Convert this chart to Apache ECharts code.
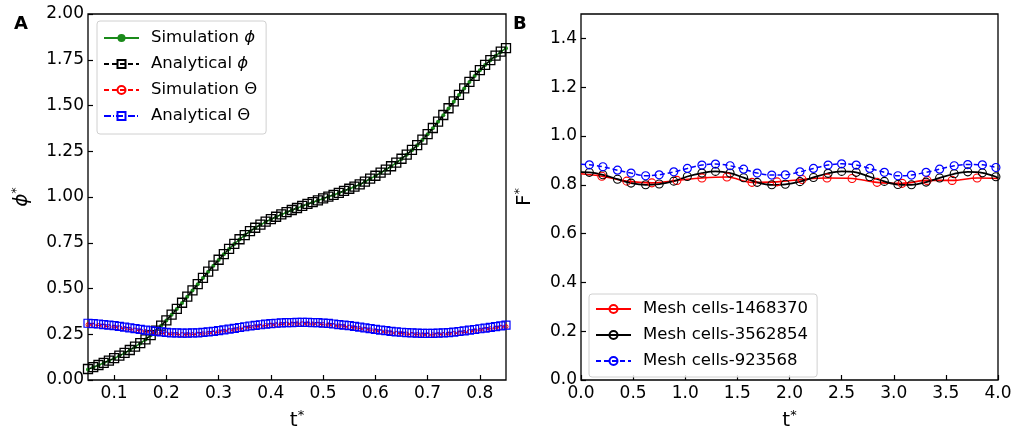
<!DOCTYPE html>
<html><head><meta charset="utf-8">
<script src="https://cdn.jsdelivr.net/npm/echarts@6/dist/echarts.min.js"></script>
<style>html,body{margin:0;padding:0;background:#fff}#c{width:1016px;height:436px}</style>
</head><body><div id="c"></div><script>
// ---------- Panel A data ----------
const tA = [0.05,0.06,0.07,0.08,0.09,0.10,0.11,0.12,0.13,0.14,0.15,0.16,0.17,0.18,0.19,0.20,0.21,0.22,0.23,0.24,0.25,0.26,0.27,0.28,0.29,0.30,0.31,0.32,0.33,0.34,0.35,0.36,0.37,0.38,0.39,0.40,0.41,0.42,0.43,0.44,0.45,0.46,0.47,0.48,0.49,0.50,0.51,0.52,0.53,0.54,0.55,0.56,0.57,0.58,0.59,0.60,0.61,0.62,0.63,0.64,0.65,0.66,0.67,0.68,0.69,0.70,0.71,0.72,0.73,0.74,0.75,0.76,0.77,0.78,0.79,0.80,0.81,0.82,0.83,0.84,0.85];
const phiSim = [0.058,0.069,0.081,0.093,0.105,0.118,0.132,0.147,0.163,0.181,0.200,0.221,0.244,0.269,0.296,0.325,0.356,0.388,0.421,0.455,0.489,0.523,0.557,0.591,0.624,0.656,0.687,0.716,0.743,0.768,0.791,0.812,0.831,0.848,0.864,0.878,0.891,0.904,0.916,0.928,0.939,0.950,0.961,0.971,0.981,0.991,1.001,1.011,1.022,1.033,1.044,1.056,1.068,1.083,1.099,1.115,1.132,1.149,1.167,1.187,1.208,1.231,1.256,1.283,1.312,1.343,1.376,1.411,1.447,1.484,1.521,1.557,1.593,1.628,1.661,1.692,1.721,1.747,1.771,1.793,1.813];
const phiAna = [0.060,0.070,0.082,0.094,0.106,0.119,0.133,0.148,0.164,0.182,0.201,0.222,0.245,0.270,0.297,0.326,0.357,0.389,0.422,0.456,0.490,0.524,0.558,0.592,0.625,0.657,0.688,0.717,0.744,0.769,0.792,0.813,0.832,0.849,0.865,0.879,0.892,0.905,0.917,0.929,0.940,0.951,0.962,0.972,0.982,0.992,1.002,1.012,1.023,1.034,1.045,1.057,1.069,1.084,1.100,1.116,1.133,1.150,1.168,1.188,1.209,1.232,1.257,1.284,1.313,1.344,1.377,1.412,1.448,1.485,1.522,1.558,1.594,1.629,1.662,1.693,1.722,1.748,1.772,1.794,1.814];
const thetaSim = [0.302,0.300,0.298,0.295,0.292,0.289,0.285,0.281,0.277,0.273,0.269,0.265,0.261,0.258,0.255,0.252,0.250,0.249,0.248,0.248,0.249,0.250,0.252,0.255,0.258,0.262,0.266,0.270,0.274,0.279,0.283,0.287,0.291,0.294,0.297,0.300,0.302,0.304,0.305,0.306,0.307,0.307,0.307,0.306,0.305,0.303,0.301,0.298,0.295,0.292,0.289,0.285,0.281,0.277,0.273,0.269,0.265,0.262,0.258,0.255,0.253,0.251,0.249,0.248,0.247,0.247,0.247,0.248,0.249,0.251,0.254,0.257,0.260,0.264,0.268,0.272,0.276,0.280,0.284,0.288,0.292];
const thetaAna = [0.310,0.308,0.306,0.303,0.300,0.297,0.293,0.289,0.285,0.281,0.277,0.273,0.269,0.266,0.263,0.260,0.258,0.257,0.256,0.256,0.257,0.258,0.260,0.263,0.266,0.270,0.274,0.278,0.282,0.287,0.291,0.295,0.299,0.302,0.305,0.308,0.310,0.312,0.313,0.314,0.315,0.315,0.315,0.314,0.313,0.311,0.309,0.306,0.303,0.300,0.297,0.293,0.289,0.285,0.281,0.277,0.273,0.270,0.266,0.263,0.261,0.259,0.257,0.256,0.255,0.255,0.255,0.256,0.257,0.259,0.262,0.265,0.268,0.272,0.276,0.280,0.284,0.288,0.292,0.296,0.300];
const xTicksA = [0.1,0.2,0.3,0.4,0.5,0.6,0.7,0.8];
const yTicksA = [0,0.25,0.5,0.75,1.0,1.25,1.5,1.75,2.0];

// ---------- Panel B data ----------
const tMesh = [0.00,0.08,0.21,0.35,0.48,0.62,0.75,0.89,1.02,1.16,1.29,1.43,1.56,1.69,1.83,1.96,2.10,2.23,2.37,2.50,2.64,2.77,2.91,3.04,3.17,3.31,3.44,3.58,3.71,3.85,3.98,4.00];
const mesh3562854 = [0.852,0.851,0.841,0.823,0.807,0.800,0.803,0.815,0.834,0.848,0.855,0.848,0.829,0.810,0.800,0.802,0.813,0.830,0.847,0.855,0.851,0.833,0.814,0.801,0.800,0.811,0.828,0.845,0.853,0.849,0.833,0.826];
const mesh923568 = [0.884,0.882,0.874,0.860,0.848,0.837,0.841,0.853,0.867,0.881,0.885,0.878,0.864,0.848,0.840,0.841,0.853,0.867,0.881,0.886,0.881,0.867,0.851,0.837,0.840,0.851,0.864,0.878,0.883,0.882,0.871,0.866];
const tRed = [0.00,0.20,0.44,0.68,0.92,1.16,1.40,1.64,1.88,2.12,2.36,2.60,2.84,3.08,3.32,3.56,3.80,4.00];
const mesh1468370 = [0.845,0.835,0.815,0.808,0.818,0.828,0.832,0.810,0.812,0.822,0.828,0.826,0.810,0.806,0.818,0.818,0.828,0.826];
const xTicksB = [0,0.5,1.0,1.5,2.0,2.5,3.0,3.5,4.0];
const yTicksB = [0,0.2,0.4,0.6,0.8,1.0,1.2,1.4];

const FONT = 'DejaVu Sans';
const pairs = (xs, ys) => xs.map((x, i) => [x, ys[i]]);
const endsHidden = (xs, ys) => xs.map((x, i) => (i === 0 || i === xs.length - 1) ? {value: [x, ys[i]], symbol: 'none'} : [x, ys[i]]);

const chart = echarts.init(document.getElementById('c'), null, {renderer: 'canvas'});

function xAxisCfg(gi, min, max, ticks, digits) {
  return {
    type: 'value', gridIndex: gi, min: min, max: max,
    axisLine: {show: false},
    axisTick: {show: true, inside: true, length: 5, customValues: ticks, lineStyle: {color: '#000', width: 1.2}},
    axisLabel: {customValues: ticks, formatter: v => v.toFixed(digits), color: '#000', fontSize: 17, fontFamily: FONT, margin: 5},
    splitLine: {show: false},
    name: '{m|t}{s|*}', nameLocation: 'middle', nameGap: 29,
    nameTextStyle: {rich: {m: {fontSize: 20, fontFamily: FONT, color: '#000', lineHeight: 24}, s: {fontSize: 13, fontFamily: FONT, color: '#000', verticalAlign: 'top', lineHeight: 24}}}
  };
}
function yAxisCfg(gi, min, max, ticks, digits, nameRich, gap) {
  return {
    type: 'value', gridIndex: gi, min: min, max: max,
    axisLine: {show: false},
    axisTick: {show: true, inside: true, length: 5, customValues: ticks, lineStyle: {color: '#000', width: 1.2}},
    axisLabel: {customValues: ticks, formatter: v => v.toFixed(digits), color: '#000', fontSize: 17, fontFamily: FONT, margin: 4},
    splitLine: {show: false},
    name: nameRich, nameLocation: 'middle', nameGap: gap,
    nameTextStyle: {rich: {
      m: {fontSize: 20, fontFamily: FONT, color: '#000', lineHeight: 24},
      i: {fontSize: 20, fontFamily: FONT, fontStyle: 'italic', color: '#000', lineHeight: 24},
      s: {fontSize: 13, fontFamily: FONT, color: '#000', verticalAlign: 'top', lineHeight: 24}}}
  };
}

const legendText = {fontSize: 16.5, fontFamily: FONT, color: '#000', lineHeight: 20, padding: [0, 0, 0, 7],
  rich: {i: {fontSize: 16.5, fontFamily: FONT, fontStyle: 'italic', color: '#000', lineHeight: 20}}};

const option = {
  backgroundColor: '#fff',
  animation: false,
  title: [
    {text: 'A', left: 9, top: 10, textStyle: {fontSize: 18, fontWeight: 'bold', fontFamily: FONT, color: '#000'}},
    {text: 'B', left: 508, top: 10, textStyle: {fontSize: 18, fontWeight: 'bold', fontFamily: FONT, color: '#000'}}
  ],
  grid: [
    {left: 88, top: 14, width: 418, height: 368, show: true, borderColor: '#000', borderWidth: 1.3, backgroundColor: 'transparent'},
    {left: 581, top: 14, width: 417, height: 368, show: true, borderColor: '#000', borderWidth: 1.3, backgroundColor: 'transparent'}
  ],
  xAxis: [xAxisCfg(0, 0.05, 0.85, xTicksA, 1), xAxisCfg(1, 0, 4, xTicksB, 1)],
  yAxis: [
    yAxisCfg(0, 0, 2, yTicksA, 2, '{i|ϕ}{s|*}', 54),
    yAxisCfg(1, 0, 1.5, yTicksB, 1, '{m|F}{s|*}', 44)
  ],
  legend: [
    {
      data: ['Simulation ϕ', 'Analytical ϕ', 'Simulation Θ', 'Analytical Θ'],
      orient: 'vertical', left: 97, top: 21, itemWidth: 35, itemHeight: 10, itemGap: 6,
      padding: [7, 9, 8, 6], backgroundColor: 'rgba(255,255,255,0.85)', borderColor: '#d0d0d0', borderWidth: 1, borderRadius: 3,
      textStyle: legendText, formatter: n => n.replace('ϕ', '{i|ϕ}')
    },
    {
      data: ['Mesh cells-1468370', 'Mesh cells-3562854', 'Mesh cells-923568'],
      orient: 'vertical', left: 589, top: 294, itemWidth: 35, itemHeight: 10, itemGap: 6,
      padding: [5, 9, 6, 6], backgroundColor: 'rgba(255,255,255,0.85)', borderColor: '#d0d0d0', borderWidth: 1, borderRadius: 3,
      textStyle: legendText
    }
  ],
  series: [
    {name: 'Simulation ϕ', type: 'line', xAxisIndex: 0, yAxisIndex: 0, data: pairs(tA, phiSim),
      symbol: 'circle', symbolSize: 4, showSymbol: true,
      lineStyle: {color: '#1a8a1a', width: 1.5}, itemStyle: {color: '#1a8a1a'}},
    {name: 'Analytical ϕ', type: 'line', xAxisIndex: 0, yAxisIndex: 0, data: pairs(tA, phiAna),
      symbol: 'rect', symbolSize: 9, showSymbol: true,
      lineStyle: {color: '#000', width: 1.3, type: [5, 3]}, itemStyle: {color: 'transparent', borderColor: '#000', borderWidth: 1.3}},
    {name: 'Simulation Θ', type: 'line', xAxisIndex: 0, yAxisIndex: 0, data: pairs(tA, thetaSim),
      symbol: 'circle', symbolSize: 4, showSymbol: true,
      lineStyle: {color: '#ff0000', width: 1.3, type: [5, 3]}, itemStyle: {color: 'transparent', borderColor: '#ff0000', borderWidth: 1}},
    {name: 'Analytical Θ', type: 'line', xAxisIndex: 0, yAxisIndex: 0, data: pairs(tA, thetaAna),
      symbol: 'rect', symbolSize: 8, showSymbol: true,
      lineStyle: {color: '#0000ff', width: 1.3, type: [7, 2, 1, 2]}, itemStyle: {color: 'transparent', borderColor: '#0000ff', borderWidth: 1.2}},

    {name: 'Mesh cells-1468370', type: 'line', xAxisIndex: 1, yAxisIndex: 1, data: endsHidden(tRed, mesh1468370),
      smooth: 0.35, symbol: 'circle', symbolSize: 8, showSymbol: true,
      lineStyle: {color: '#ff0000', width: 1.6}, itemStyle: {color: 'transparent', borderColor: '#ff0000', borderWidth: 1.1}},
    {name: 'Mesh cells-3562854', type: 'line', xAxisIndex: 1, yAxisIndex: 1, data: endsHidden(tMesh, mesh3562854),
      smooth: 0.35, symbol: 'circle', symbolSize: 8, showSymbol: true,
      lineStyle: {color: '#000', width: 1.8}, itemStyle: {color: 'transparent', borderColor: '#000', borderWidth: 1.1}},
    {name: 'Mesh cells-923568', type: 'line', xAxisIndex: 1, yAxisIndex: 1, data: endsHidden(tMesh, mesh923568),
      smooth: 0.35, symbol: 'circle', symbolSize: 8, showSymbol: true,
      lineStyle: {color: '#0000ff', width: 1.5, type: [5, 3]}, itemStyle: {color: 'transparent', borderColor: '#0000ff', borderWidth: 1.2}}
  ]
};
chart.setOption(option);
</script></body></html>
